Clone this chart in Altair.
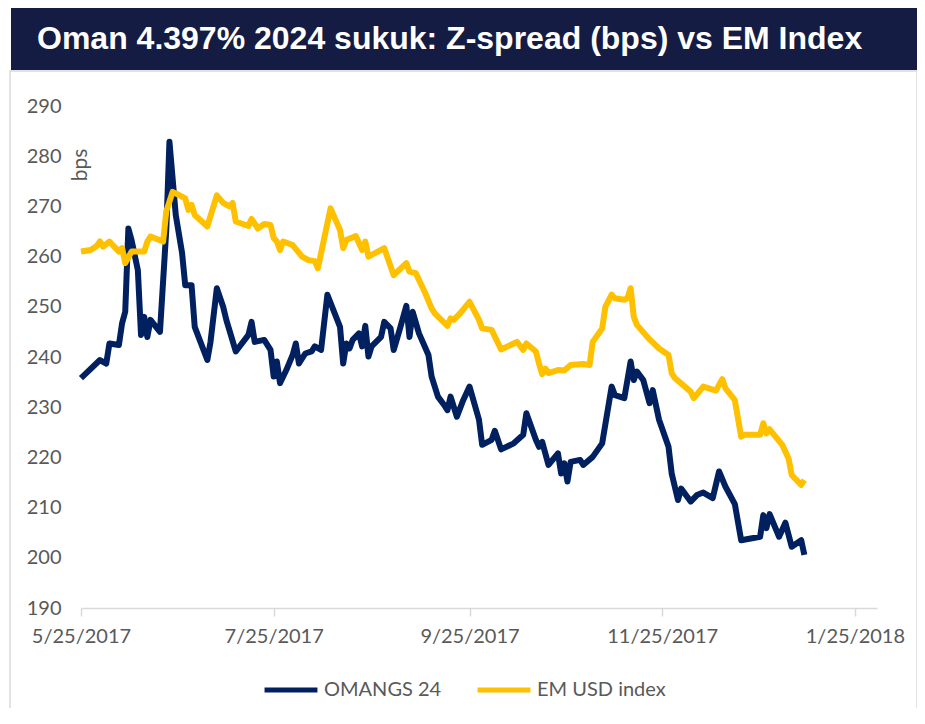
import altair as alt
import pandas as pd

title_text = "Oman 4.397% 2024 sukuk: Z-spread (bps) vs EM Index"
series_names = ["OMANGS 24", "EM USD index"]
series_colors = ["#002060", "#FFC000"]

om_dates = ["2017-05-25","2017-05-31","2017-06-02","2017-06-03","2017-06-06","2017-06-07","2017-06-08",
            "2017-06-09","2017-06-10","2017-06-12","2017-06-13","2017-06-14","2017-06-15","2017-06-16",
            "2017-06-19","2017-06-21","2017-06-22","2017-06-24","2017-06-26","2017-06-27","2017-06-29",
            "2017-06-30","2017-07-04","2017-07-05","2017-07-07","2017-07-09","2017-07-10","2017-07-13",
            "2017-07-17","2017-07-18","2017-07-19","2017-07-22","2017-07-24","2017-07-25","2017-07-26",
            "2017-07-27","2017-07-29","2017-07-31","2017-08-01","2017-08-02","2017-08-04","2017-08-06",
            "2017-08-07","2017-08-09","2017-08-11","2017-08-15","2017-08-16","2017-08-17","2017-08-18",
            "2017-08-19","2017-08-21","2017-08-22","2017-08-23","2017-08-24","2017-08-25","2017-08-28",
            "2017-08-29","2017-08-31","2017-09-01","2017-09-03","2017-09-05","2017-09-06","2017-09-07",
            "2017-09-09","2017-09-12","2017-09-13","2017-09-15","2017-09-17","2017-09-18","2017-09-19",
            "2017-09-21","2017-09-23","2017-09-25","2017-09-28","2017-09-29","2017-10-02","2017-10-03",
            "2017-10-05","2017-10-09","2017-10-12","2017-10-13","2017-10-16","2017-10-17","2017-10-18",
            "2017-10-20","2017-10-23","2017-10-24","2017-10-25","2017-10-26","2017-10-27","2017-10-30",
            "2017-10-31","2017-11-03","2017-11-06","2017-11-09","2017-11-10","2017-11-13","2017-11-15",
            "2017-11-16","2017-11-17","2017-11-19","2017-11-21","2017-11-22","2017-11-24","2017-11-27",
            "2017-11-28","2017-11-30","2017-12-01","2017-12-04","2017-12-06","2017-12-08","2017-12-11",
            "2017-12-13","2017-12-15","2017-12-18","2017-12-20","2017-12-26","2017-12-27","2017-12-28",
            "2017-12-29","2018-01-01","2018-01-03","2018-01-05","2018-01-08","2018-01-09"]
om_vals = [235.8,239.4,238.7,242.7,242.4,246.7,249.0,
           265.6,263.3,257.3,244.4,248.0,244.0,247.4,
           245.0,265.3,282.9,268.3,260.7,254.3,254.3,
           246.0,239.4,243.0,253.7,250.0,247.4,241.1,
           244.4,247.0,243.0,243.4,241.4,236.1,239.1,
           234.8,237.4,240.4,242.7,238.7,240.7,241.1,
           242.1,241.4,252.4,246.0,238.7,242.7,241.7,
           243.4,244.7,242.1,246.2,240.1,242.1,244.0,
           247.0,245.7,241.4,245.7,250.2,244.0,249.0,
           244.7,240.4,236.1,232.1,230.4,229.4,232.1,
           228.1,231.4,234.1,227.5,222.5,223.5,225.3,
           221.6,222.8,224.5,228.8,223.5,222.1,223.1,
           218.5,220.8,216.8,218.8,215.2,219.1,219.5,
           218.5,220.1,222.8,234.1,232.4,231.8,239.1,
           235.4,237.1,235.4,230.8,233.4,227.5,222.1,
           216.8,211.5,213.8,211.2,212.5,213.0,211.9,
           217.2,214.2,210.7,203.5,204.2,208.5,205.9,
           208.7,204.2,207.0,202.2,203.5,200.6]

em_dates = ["2017-05-25","2017-05-28","2017-05-30","2017-05-31","2017-06-01","2017-06-03","2017-06-06",
            "2017-06-07","2017-06-08","2017-06-10","2017-06-14","2017-06-15","2017-06-16","2017-06-20",
            "2017-06-21","2017-06-23","2017-06-24","2017-06-27","2017-06-28","2017-06-29","2017-06-30",
            "2017-07-04","2017-07-07","2017-07-09","2017-07-11","2017-07-12","2017-07-13","2017-07-17",
            "2017-07-18","2017-07-20","2017-07-22","2017-07-24","2017-07-25","2017-07-26","2017-07-27",
            "2017-07-28","2017-07-31","2017-08-03","2017-08-05","2017-08-07","2017-08-08","2017-08-12",
            "2017-08-15","2017-08-16","2017-08-17","2017-08-20","2017-08-22","2017-08-23","2017-08-24",
            "2017-08-29","2017-09-01","2017-09-05","2017-09-06","2017-09-08","2017-09-11","2017-09-13",
            "2017-09-14","2017-09-18","2017-09-19","2017-09-20","2017-09-22","2017-09-25","2017-09-28",
            "2017-09-29","2017-10-02","2017-10-05","2017-10-10","2017-10-12","2017-10-13","2017-10-16",
            "2017-10-17","2017-10-18","2017-10-19","2017-10-20","2017-10-23","2017-10-25","2017-10-27",
            "2017-10-31","2017-11-02","2017-11-03","2017-11-06","2017-11-07","2017-11-09","2017-11-10",
            "2017-11-13","2017-11-14","2017-11-15","2017-11-16","2017-11-17","2017-11-21","2017-11-24",
            "2017-11-27","2017-11-28","2017-11-29","2017-12-04","2017-12-05","2017-12-08","2017-12-12",
            "2017-12-14","2017-12-15","2017-12-18","2017-12-20","2017-12-21","2017-12-26","2017-12-27",
            "2017-12-28","2017-12-29","2018-01-02","2018-01-04","2018-01-05","2018-01-08","2018-01-09"]
em_vals = [261.0,261.3,262.1,263.0,262.0,263.0,261.0,
           261.7,258.7,261.0,261.0,263.0,264.0,263.0,
           269.0,272.9,272.6,271.6,269.3,270.3,268.3,
           266.0,272.2,270.7,270.0,270.7,267.0,266.1,
           267.5,265.6,266.5,266.3,263.7,263.0,261.3,
           263.0,262.3,260.0,259.3,259.1,257.7,269.6,
           265.3,261.7,263.3,264.1,261.3,263.0,260.0,
           261.7,256.3,258.7,257.0,256.7,252.7,249.7,
           248.7,246.2,247.7,247.4,248.7,251.0,247.4,
           245.7,245.4,241.5,243.0,241.4,242.7,241.1,
           238.7,236.6,237.7,236.8,237.4,237.3,238.4,
           238.6,238.4,243.0,245.7,250.0,252.4,251.7,
           251.4,251.7,253.7,248.0,246.4,243.5,241.7,
           240.4,236.8,235.8,233.1,231.8,234.1,233.3,
           235.6,233.8,231.4,224.1,224.5,224.5,226.8,
           224.8,225.6,222.5,219.8,216.5,214.5,215.5]

y_ticks = [190, 200, 210, 220, 230, 240, 250, 260, 270, 280, 290]
x_ticks = [(2017, 5, 25), (2017, 7, 25), (2017, 9, 25), (2017, 11, 25), (2018, 1, 25)]
x_domain = [(2017, 5, 25), (2018, 2, 1)]

om_df = pd.DataFrame({"date": om_dates, "value": om_vals, "series": series_names[0]})
em_df = pd.DataFrame({"date": em_dates, "value": em_vals, "series": series_names[1]})
one = pd.DataFrame({"k": [0]})

def dt(t):
    return alt.DateTime(year=t[0], month=t[1], date=t[2], utc=True)

x_enc = alt.X("date:T",
              scale=alt.Scale(domain=[dt(t) for t in x_domain], nice=False),
              axis=alt.Axis(values=[dt(t) for t in x_ticks],
                            labelExpr="utcFormat(datum.value, '%-m/%-d/%Y')",
                            title=None, grid=False, domainColor="#d9d9d9", domainWidth=1.5,
                            tickColor="#d9d9d9", tickSize=8, tickWidth=1.5,
                            labelColor="#595959", labelFontSize=20, labelFont="Lato",
                            labelPadding=10, labelFlush=False, labelOverlap=False, zindex=1))
y_enc = alt.Y("value:Q",
              scale=alt.Scale(domain=[190, 290], nice=False, zero=False),
              axis=alt.Axis(values=y_ticks, title=None, grid=False, domain=False, ticks=False,
                            labelColor="#595959", labelFontSize=20, labelFont="Lato",
                            labelPadding=20, zindex=1))
color_scale = alt.Scale(domain=series_names, range=series_colors)
legend = alt.Legend(title=None, orient="none", legendX=181, legendY=555, direction="horizontal",
                    symbolType="stroke", symbolSize=2800, symbolStrokeWidth=5,
                    labelFontSize=20, labelFont="Lato", labelColor="#595959",
                    labelOffset=4, columnPadding=25, padding=0, zindex=1)

border = alt.Chart(one).mark_rect(fill="white", stroke="#d9d9d9", strokeWidth=1.5).encode(
    x=alt.value(-71), x2=alt.value(836), y=alt.value(-35), y2=alt.value(620))
banner = alt.Chart(one).mark_rect(fill="#141c44").encode(
    x=alt.value(-70), x2=alt.value(836), y=alt.value(-98), y2=alt.value(-36))
title = alt.Chart(one).mark_text(align="left", baseline="middle", font="Liberation Sans",
                                 fontWeight="bold", fontSize=32, color="white").encode(
    x=alt.value(-44), y=alt.value(-67), text=alt.value(title_text))
bps = alt.Chart(one).mark_text(angle=270, align="center", baseline="middle", font="Lato",
                               fontSize=21, color="#595959").encode(
    x=alt.value(0), y=alt.value(59), text=alt.value("bps"))

om_line = alt.Chart(om_df).mark_line(strokeWidth=6, strokeJoin="round").encode(
    x=x_enc, y=y_enc, color=alt.Color("series:N", scale=color_scale, legend=legend))
em_line = alt.Chart(em_df).mark_line(strokeWidth=6, strokeJoin="round").encode(
    x=x_enc, y=y_enc, color=alt.Color("series:N", scale=color_scale, legend=legend))

chart = alt.layer(border, banner, title, bps, om_line, em_line).properties(
    width=796, height=502,
    autosize=alt.AutoSizeParams(type="none"),
    padding={"left": 73, "top": 98, "right": 40, "bottom": 100},
    background="white",
).configure_view(stroke=None)

chart.save("out.html", embed_options={"renderer": "svg", "actions": False})
